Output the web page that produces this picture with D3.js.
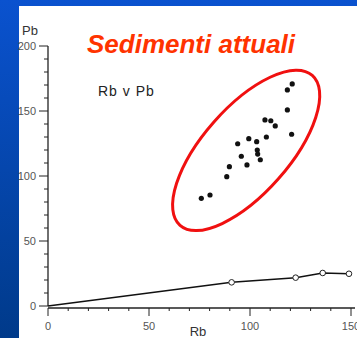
<!DOCTYPE html>
<html>
<head>
<meta charset="utf-8">
<script src="https://d3js.org/d3.v7.min.js"></script>
<style>
  body { margin: 0; padding: 0; background: #003c90; }
  svg { display: block; }
</style>
</head>
<body>
<div id="chart"></div>
<script>
// Rb v Pb, recent sediments
const rbSed = [75.9, 80.2, 88.5, 89.8, 93.9, 95.7, 98.5, 99.4, 103.3, 103.6, 103.8, 105.1, 107.4, 108.1, 110.3, 112.5, 118.5, 120.9, 118.5, 120.6];
const pbSed = [82.8, 85.4, 99.5, 107.2, 124.8, 115.2, 108.5, 128.7, 126.4, 120.0, 116.9, 112.5, 143.1, 130.0, 142.5, 138.5, 166.2, 170.8, 150.8, 132.1];

// open circles on the lower trend line
const rbLine = [0, 90.9, 122.6, 136.0, 149.0];
const pbLine = [0, 18.2, 21.8, 25.4, 24.8];

const xTicks = [0, 50, 100, 150];
const yTicks = [0, 50, 100, 150, 200];

const svgWidth = 357;
const svgHeight = 338;

const svg = d3.select('#chart')
    .append('svg')
    .attr('width', svgWidth)
    .attr('height', svgHeight);

// slide background: blue strip on the left + top, white page
const defs = svg.append('defs');
const grad = defs.append('linearGradient')
    .attr('id', 'bg')
    .attr('x1', 0).attr('y1', 0).attr('x2', 0).attr('y2', 1);
grad.append('stop').attr('offset', '0%').attr('stop-color', '#0a52cf');
grad.append('stop').attr('offset', '100%').attr('stop-color', '#003a8a');

svg.append('rect')
    .attr('width', svgWidth)
    .attr('height', svgHeight)
    .attr('fill', 'url(#bg)');

svg.append('rect')
    .attr('x', 19)
    .attr('y', 6)
    .attr('width', svgWidth - 19)
    .attr('height', svgHeight - 6)
    .attr('fill', 'white');

var xScale = d3.scaleLinear()
    .domain([0, 150])
    .range([48, 351]);

var yScale = d3.scaleLinear()
    .domain([0, 200])
    .range([306, 46]);

const axisColor = '#222';
const labelColor = '#555';

// y axis
svg.append('line')
    .attr('x1', xScale(0)).attr('x2', xScale(0))
    .attr('y1', yScale(200)).attr('y2', yScale(0))
    .attr('stroke', axisColor)
    .attr('stroke-width', 1.3);

svg.selectAll('.yminor')
    .data(d3.range(0, 201, 10))
    .enter().append('line')
    .attr('x1', d => d % 50 == 0 ? xScale(0) - 9 : xScale(0) - 4)
    .attr('x2', xScale(0))
    .attr('y1', d => yScale(d))
    .attr('y2', d => yScale(d))
    .attr('stroke', axisColor)
    .attr('stroke-width', 1);

svg.selectAll('.ylab')
    .data(yTicks)
    .enter().append('text')
    .attr('x', 36)
    .attr('y', d => yScale(d) + 4)
    .attr('text-anchor', 'end')
    .attr('font-family', 'Liberation Sans, Arial, sans-serif')
    .attr('font-size', 11)
    .attr('fill', labelColor)
    .text(d => d);

svg.append('text')
    .attr('x', 22)
    .attr('y', 35)
    .attr('font-family', 'Liberation Sans, Arial, sans-serif')
    .attr('font-size', 13)
    .attr('fill', '#333')
    .text('Pb');

// x axis
svg.append('line')
    .attr('x1', xScale(0)).attr('x2', xScale(150) + 4)
    .attr('y1', yScale(0) + 2).attr('y2', yScale(0) + 2)
    .attr('stroke', axisColor)
    .attr('stroke-width', 1.3);

svg.selectAll('.xminor')
    .data(d3.range(0, 151, 10))
    .enter().append('line')
    .attr('x1', d => xScale(d))
    .attr('x2', d => xScale(d))
    .attr('y1', yScale(0) + 2)
    .attr('y2', d => d % 50 == 0 ? yScale(0) + 10 : yScale(0) + 5)
    .attr('stroke', axisColor)
    .attr('stroke-width', 1);

// the last label (150) runs past the page edge, as in the scan
svg.selectAll('.xlab')
    .data(xTicks)
    .enter().append('text')
    .attr('x', d => xScale(d))
    .attr('y', 330)
    .attr('text-anchor', 'middle')
    .attr('font-family', 'Liberation Sans, Arial, sans-serif')
    .attr('font-size', 11)
    .attr('fill', labelColor)
    .text(d => d);

svg.append('text')
    .attr('x', 198)
    .attr('y', 336)
    .attr('text-anchor', 'middle')
    .attr('font-family', 'Liberation Sans, Arial, sans-serif')
    .attr('font-size', 13)
    .attr('fill', '#333')
    .text('Rb');

// plot label
svg.append('text')
    .attr('x', 98)
    .attr('y', 96)
    .attr('font-family', 'Liberation Sans, Arial, sans-serif')
    .attr('font-size', 14)
    .attr('letter-spacing', 1)
    .attr('fill', '#222')
    .text('Rb v Pb');

// lower trend line with open circles
const lineData = rbLine.map((d, i) => [d, pbLine[i]]);
svg.append('path')
    .datum(lineData)
    .attr('d', d3.line().x(d => xScale(d[0])).y(d => yScale(d[1])))
    .attr('fill', 'none')
    .attr('stroke', '#111')
    .attr('stroke-width', 1.5);

svg.selectAll('.open')
    .data(lineData.slice(1))
    .enter().append('circle')
    .attr('cx', d => xScale(d[0]))
    .attr('cy', d => yScale(d[1]))
    .attr('r', 2.8)
    .attr('fill', 'white')
    .attr('stroke', '#222')
    .attr('stroke-width', 1);

// filled points
svg.selectAll('.dot')
    .data(rbSed.map((d, i) => [d, pbSed[i]]))
    .enter().append('circle')
    .attr('cx', d => xScale(d[0]))
    .attr('cy', d => yScale(d[1]))
    .attr('r', 2.6)
    .attr('fill', '#111');

// red ellipse around the sediment cluster
const ellCx = 98.1, ellCy = 119.7;
svg.append('ellipse')
    .attr('cx', 0).attr('cy', 0)
    .attr('rx', 100).attr('ry', 43)
    .attr('transform', `translate(${xScale(ellCx)},${yScale(ellCy)}) rotate(-48.6)`)
    .attr('fill', 'none')
    .attr('stroke', '#f01010')
    .attr('stroke-width', 3);

// title
svg.append('text')
    .attr('x', 87)
    .attr('y', 53)
    .attr('font-family', 'Liberation Sans, Arial, sans-serif')
    .attr('font-size', 26)
    .attr('font-weight', 'bold')
    .attr('font-style', 'italic')
    .attr('fill', '#ff3300')
    .text('Sedimenti attuali');
</script>
</body>
</html>
